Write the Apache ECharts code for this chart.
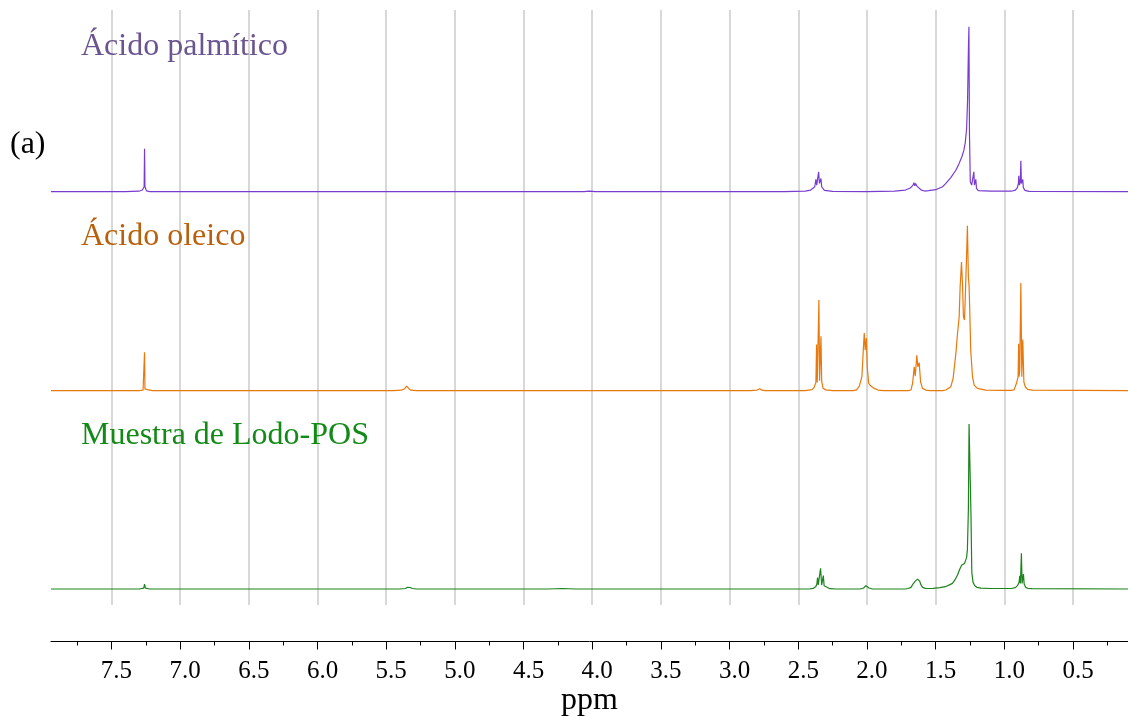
<!DOCTYPE html>
<html>
<head>
<meta charset="utf-8">
<title>RMN 1H</title>
<script src="https://cdn.jsdelivr.net/npm/echarts@6/dist/echarts.min.js"></script>
<style>
  html, body { margin: 0; padding: 0; background: #ffffff; }
  #chart { width: 1128px; height: 716px; }
</style>
</head>
<body>
<div id="chart"></div>
<script>
// Chemical shift window (ppm) shown on the axis
const ppmLeft = 7.94;
const ppmRight = 0.1;

// Labelled ticks and quarter-ppm minor ticks
const majorTicks = [7.5, 7.0, 6.5, 6.0, 5.5, 5.0, 4.5, 4.0, 3.5, 3.0, 2.5, 2.0, 1.5, 1.0, 0.5];
const minorTicks = [7.75, 7.5, 7.25, 7.0, 6.75, 6.5, 6.25, 6.0, 5.75, 5.5, 5.25, 5.0, 4.75, 4.5, 4.25, 4.0,
                    3.75, 3.5, 3.25, 3.0, 2.75, 2.5, 2.25, 2.0, 1.75, 1.5, 1.25, 1.0, 0.75, 0.5, 0.25];

// Spectrum names
const spectrumNames = ['Ácido palmítico', 'Ácido oleico', 'Muestra de Lodo-POS'];
const panelTag = '(a)';

// [ppm, relative intensity] — tallest peak of each spectrum = 100
const palmitic = [
  [7.94, 0], [7.40, 0], [7.30, 0.3], [7.275, 1.0], [7.262, 3], [7.259, 26], [7.256, 3], [7.245, 0.5], [7.22, 0],
  [4.06, 0], [4.02, 0.4], [3.98, 0],
  [2.60, 0], [2.45, 0.3], [2.41, 1], [2.38, 3], [2.372, 7.5], [2.366, 4], [2.358, 5], [2.352, 12], [2.346, 5],
  [2.340, 5], [2.335, 8], [2.330, 3], [2.31, 0.8], [2.25, 0.2], [2.00, 0],
  [1.80, 0.3], [1.72, 1], [1.685, 2.2], [1.665, 4], [1.658, 5.5], [1.652, 3.5], [1.646, 5], [1.640, 5.7],
  [1.635, 3.2], [1.628, 4], [1.622, 2.5], [1.605, 1], [1.58, 0.4],
  [1.55, 0.6], [1.50, 1.2], [1.45, 3], [1.426, 5], [1.39, 8.5], [1.353, 13], [1.33, 17], [1.31, 21],
  [1.295, 25], [1.285, 29.5], [1.275, 38], [1.268, 55], [1.262, 85], [1.258, 100], [1.254, 35], [1.248, 6],
  [1.238, 4], [1.226, 4], [1.222, 12], [1.218, 4], [1.212, 4], [1.208, 7.5], [1.203, 2], [1.19, 0.6],
  [1.10, 0.3], [1.00, 0.3],
  [0.95, 0.3], [0.92, 1], [0.905, 2.5], [0.898, 5], [0.895, 9.7], [0.890, 4], [0.884, 6], [0.880, 18.8],
  [0.876, 5], [0.870, 4], [0.866, 7.5], [0.862, 2.5], [0.85, 0.8], [0.82, 0.2], [0.10, 0]
];

const oleic = [
  [7.94, 0], [7.30, 0], [7.27, 0.3], [7.262, 1], [7.259, 23.3], [7.256, 1], [7.25, 0.2], [7.20, 0],
  [5.45, 0], [5.39, 0.3], [5.365, 1.2], [5.35, 2.8], [5.345, 2.5], [5.335, 1.2], [5.32, 0.3], [5.28, 0],
  [2.85, 0], [2.80, 0.4], [2.78, 1.2], [2.765, 0.3], [2.74, 0],
  [2.45, 0], [2.40, 0.6], [2.385, 2], [2.372, 5], [2.367, 28], [2.362, 5], [2.355, 6], [2.350, 55],
  [2.345, 6], [2.340, 6], [2.335, 33], [2.330, 6], [2.32, 1.5], [2.30, 0.5], [2.25, 0],
  [2.10, 0], [2.076, 0.5], [2.056, 2.8], [2.037, 8.5], [2.027, 24.5], [2.020, 35], [2.013, 24.5],
  [2.005, 32], [1.998, 14.5], [1.988, 4.5], [1.971, 2.8], [1.947, 1.4], [1.92, 0.4], [1.88, 0],
  [1.70, 0], [1.68, 0.4], [1.668, 4.5], [1.656, 14.5], [1.649, 8.8], [1.637, 21.5], [1.630, 14.5],
  [1.620, 17], [1.610, 5.4], [1.603, 6.5], [1.596, 1.4], [1.572, 0.4], [1.54, 0],
  [1.45, 0], [1.426, 0.4], [1.39, 2.4], [1.373, 7.5], [1.353, 22.6], [1.341, 34.7], [1.329, 44.8],
  [1.322, 63], [1.312, 78], [1.305, 65], [1.298, 44.8], [1.290, 42.8], [1.283, 61], [1.276, 79],
  [1.269, 100], [1.262, 69], [1.257, 64], [1.252, 48.8], [1.245, 24.6], [1.232, 8.5], [1.220, 3.4],
  [1.196, 1.4], [1.135, 0.4], [1.00, 0.2],
  [0.95, 0.2], [0.929, 0.5], [0.912, 4.5], [0.900, 8.5], [0.896, 28.5], [0.893, 8.5], [0.888, 12.5],
  [0.880, 65.3], [0.873, 8.5], [0.866, 31], [0.858, 5.4], [0.848, 2.4], [0.831, 0.8], [0.795, 0.3],
  [0.10, 0]
];

const sludge = [
  [7.94, 0], [7.30, 0], [7.265, 0.5], [7.259, 3], [7.253, 0.5], [7.22, 0],
  [5.40, 0], [5.36, 0.3], [5.345, 1], [5.334, 1.4], [5.325, 0.9], [5.31, 0.3], [5.28, 0],
  [4.32, 0], [4.22, 0.3], [4.12, 0],
  [2.42, 0], [2.39, 0.4], [2.372, 1.5], [2.365, 3], [2.360, 6.9], [2.355, 2.4], [2.345, 3], [2.338, 12.5],
  [2.330, 2.4], [2.322, 3], [2.318, 8.1], [2.312, 2], [2.30, 0.8], [2.27, 0.2], [2.22, 0],
  [2.05, 0], [2.025, 0.6], [2.008, 2], [2.000, 1.8], [1.985, 0.6], [1.96, 0],
  [1.72, 0], [1.70, 0.3], [1.68, 1], [1.665, 3], [1.650, 4.6], [1.640, 5], [1.632, 6], [1.625, 5],
  [1.617, 4.8], [1.607, 2.5], [1.595, 1], [1.575, 0.4], [1.55, 0.3],
  [1.52, 0.4], [1.47, 0.8], [1.43, 1.4], [1.40, 2.5], [1.378, 3.4], [1.36, 5.5], [1.341, 8.5],
  [1.325, 12], [1.310, 14.5], [1.300, 13.5], [1.290, 15.5], [1.282, 16.5], [1.275, 19], [1.269, 24],
  [1.262, 48], [1.257, 100], [1.249, 100], [1.243, 45], [1.237, 10], [1.228, 4], [1.215, 2],
  [1.20, 1], [1.17, 0.5], [1.10, 0.3],
  [0.95, 0.3], [0.92, 0.8], [0.905, 2], [0.893, 4], [0.888, 8], [0.883, 3.4], [0.880, 4], [0.876, 21.6],
  [0.871, 3.4], [0.866, 4], [0.861, 9], [0.856, 3], [0.845, 1], [0.83, 0.4], [0.80, 0.2], [0.10, 0]
];

const traceColors = ['#7a3ccf', '#e8790c', '#1b841b'];
const nameColors = ['#6a5590', '#b8600c', '#138a17'];

const serif = '"Liberation Serif", "Times New Roman", serif';

// Three stacked panels sharing the ppm scale, plus a strip carrying the ppm axis
const panels = [
  { top: 10,  height: 190, yMin: -5.03, yMax: 110.1 },
  { top: 200, height: 200, yMin: -5.64, yMax: 115.6 },
  { top: 400, height: 205, yMin: -9.7,  yMax: 114.5 }
];
const spectra = [palmitic, oleic, sludge];

const grid = panels.map(p => ({ left: 51, right: -1, top: p.top, height: p.height }));
grid.push({ left: 51, right: -1, top: 641, height: 2 });

const xAxis = panels.map((p, i) => ({
  type: 'value', gridIndex: i, inverse: true, min: ppmRight, max: ppmLeft,
  axisLine: { show: false },
  axisTick: { show: false, customValues: majorTicks },
  axisLabel: { show: false, customValues: majorTicks },
  splitLine: { show: true, lineStyle: { color: '#cbcbcb', width: 1.5 } }
}));
// labelled ppm axis
xAxis.push({
  type: 'value', gridIndex: 3, inverse: true, min: ppmRight, max: ppmLeft, position: 'bottom',
  axisLine: { show: true, lineStyle: { color: '#000000', width: 1 } },
  axisTick: { show: true, length: 8, lineStyle: { color: '#000000', width: 1 }, customValues: majorTicks },
  axisLabel: {
    show: true, customValues: majorTicks, margin: 17, color: '#000000',
    fontFamily: serif, fontSize: 25, padding: [0, 0, 0, 10],
    formatter: v => v.toFixed(1)
  },
  splitLine: { show: false },
  name: 'ppm', nameLocation: 'middle', nameGap: 38,
  nameTextStyle: { color: '#000000', fontFamily: serif, fontSize: 32 }
});
// quarter-ppm minor ticks
xAxis.push({
  type: 'value', gridIndex: 3, inverse: true, min: ppmRight, max: ppmLeft, position: 'bottom',
  axisLine: { show: false },
  axisTick: { show: true, length: 4, lineStyle: { color: '#000000', width: 1 }, customValues: minorTicks },
  axisLabel: { show: false, customValues: minorTicks },
  splitLine: { show: false }
});

const yAxis = panels.map((p, i) => ({
  type: 'value', gridIndex: i, min: p.yMin, max: p.yMax, show: false
}));
yAxis.push({ type: 'value', gridIndex: 3, min: 0, max: 1, show: false });

const series = spectra.map((data, i) => ({
  type: 'line', name: spectrumNames[i], xAxisIndex: i, yAxisIndex: i,
  data: data, showSymbol: false, symbol: 'none', smooth: false,
  lineStyle: { color: traceColors[i], width: 1.2 },
  emphasis: { disabled: true }
}));

const nameTop = [31, 221, 420];
const graphic = spectrumNames.map((t, i) => ({
  type: 'text', left: 81, top: nameTop[i], z: 10,
  style: { text: t, fill: nameColors[i], font: '32px ' + serif }
}));
graphic.push({
  type: 'text', left: 10, top: 129, z: 10,
  style: { text: panelTag, fill: '#000000', font: '32px ' + serif }
});

const chart = echarts.init(document.getElementById('chart'), null, { renderer: 'canvas' });
chart.setOption({
  animation: false,
  backgroundColor: '#ffffff',
  grid, xAxis, yAxis, series, graphic
});
</script>
</body>
</html>
